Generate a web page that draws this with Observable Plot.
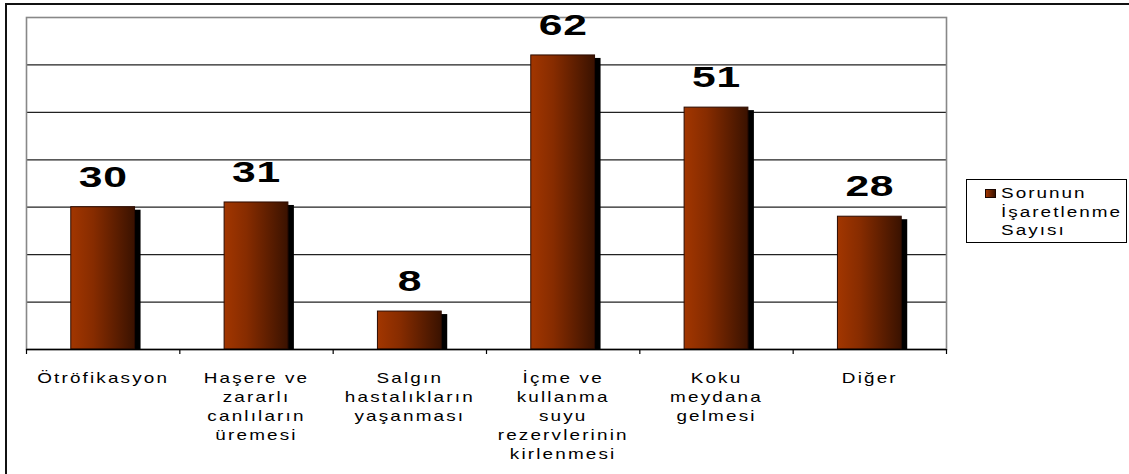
<!DOCTYPE html>
<html>
<head>
<meta charset="utf-8">
<script src="https://cdn.jsdelivr.net/npm/d3@7"></script>
<script src="https://cdn.jsdelivr.net/npm/@observablehq/plot@0.6"></script>
<style>
  html, body { margin: 0; padding: 0; background: #fff; overflow: hidden; }
  body { width: 1129px; height: 474px; position: relative; }
  #frame { position: absolute; left: 5px; top: 3px; width: 1300px; height: 600px; border: 2px solid #111; box-sizing: border-box; }
  #chart { position: absolute; left: 0; top: 0; }
  #legend { position: absolute; left: 966px; top: 179px; width: 161px; height: 64px; border: 1.5px solid #000; box-sizing: border-box; background: #fff;
            font-family: "Liberation Sans", Arial, sans-serif; font-size: 14px; color: #000; }
  #legend .sw { position: absolute; left: 18px; top: 9px; width: 9px; height: 7px; border: 1px solid #1a0600;
                background: linear-gradient(to right, #a03500, #3a1200); }
  #legend .tx { position: absolute; left: 34px; top: 4px; white-space: pre; letter-spacing: 1.5px; line-height: 18.5px;
                transform: scaleX(1.35); transform-origin: 0 0; }
</style>
</head>
<body>
<div id="frame"></div>
<div id="chart"></div>
<div id="legend"><div class="sw"></div><div class="tx"></div></div>
<script>
// ---- data ----
const categories = ["Ötröfikasyon", "Haşere ve zararlı canlıların üremesi", "Salgın hastalıkların yaşanması",
  "İçme ve kullanma suyu rezervlerinin kirlenmesi", "Koku meydana gelmesi", "Diğer"];
const tickLabels = ["Ötröfikasyon", "Haşere ve\nzararlı\ncanlıların\nüremesi", "Salgın\nhastalıkların\nyaşanması",
  "İçme ve\nkullanma\nsuyu\nrezervlerinin\nkirlenmesi", "Koku\nmeydana\ngelmesi", "Diğer"];
const values = [30, 31, 8, 62, 51, 28];
const seriesName = "Sorunun\nİşaretlenme\nSayısı";
const yTicks = [10, 20, 30, 40, 50, 60];
const yMax = 70;

const data = categories.map((c, i) => ({cat: c, label: tickLabels[i], value: values[i], idx: i}));
const pad = 0.292;

document.querySelector("#legend .tx").textContent = seriesName;

const plot = Plot.plot({
  width: 1129,
  height: 474,
  marginLeft: 26,
  marginRight: 183,
  marginTop: 17,
  marginBottom: 125,
  style: {background: "transparent", fontFamily: "Liberation Sans, Arial, sans-serif"},
  x: {domain: [0, categories.length], axis: null},
  y: {domain: [0, yMax], axis: null},
  marks: [
    Plot.ruleY(yTicks, {stroke: "#222", strokeWidth: 1.2}),
    Plot.frame({stroke: "#888", strokeWidth: 1.6}),
    // shadows
    Plot.rectY(data, {x1: d => d.idx + pad, x2: d => d.idx + 1 - pad, y: "value", fill: "#000", dx: 6, insetTop: 3}),
    // bars
    Plot.rectY(data, {x1: d => d.idx + pad, x2: d => d.idx + 1 - pad, y: "value", fill: "url(#barGrad)", stroke: "#2b0b00", strokeWidth: 1}),
    Plot.ruleY([0], {stroke: "#000", strokeWidth: 1.4}),
    Plot.axisX({ticks: d3.range(categories.length + 1), tickFormat: () => "", tickSize: 5, stroke: "#000", strokeWidth: 1.2}),
    // value labels
    Plot.text(data, {x: d => d.idx + 0.5, y: "value", text: d => String(d.value), dy: -30, dx: 0,
      fontSize: 30, fontWeight: "bold", fill: "#000", textAnchor: "middle", lineAnchor: "middle"}),
    // category labels
    Plot.text(data, {x: d => d.idx + 0.5, y: () => 0, text: "label", dy: 20, dx: 0, lineAnchor: "top",
      lineHeight: 1.36, fontSize: 14, fill: "#000", textAnchor: "middle"})
  ]
});

const svg = d3.select(plot);
const defs = svg.insert("defs", ":first-child");
const g = defs.append("linearGradient").attr("id", "barGrad").attr("x1", "0").attr("x2", "1").attr("y1", "0").attr("y2", "0");
g.append("stop").attr("offset", "0%").attr("stop-color", "#a23600");
g.append("stop").attr("offset", "35%").attr("stop-color", "#872c00");
g.append("stop").attr("offset", "100%").attr("stop-color", "#3a1200");

// stretch text horizontally like the original rendering
const textGroups = svg.selectAll("g[aria-label='text']").nodes();
textGroups.forEach((grp, gi) => {
  d3.select(grp).selectAll("text").each(function() {
    const t = this.getAttribute("transform") || "";
    this.setAttribute("transform", t + (gi === 0 ? " scale(1.42,1)" : " scale(1.35,1)"));
    this.style.letterSpacing = gi === 0 ? "0.5px" : "1.6px";
  });
});
document.getElementById("chart").appendChild(plot);
</script>
</body>
</html>
